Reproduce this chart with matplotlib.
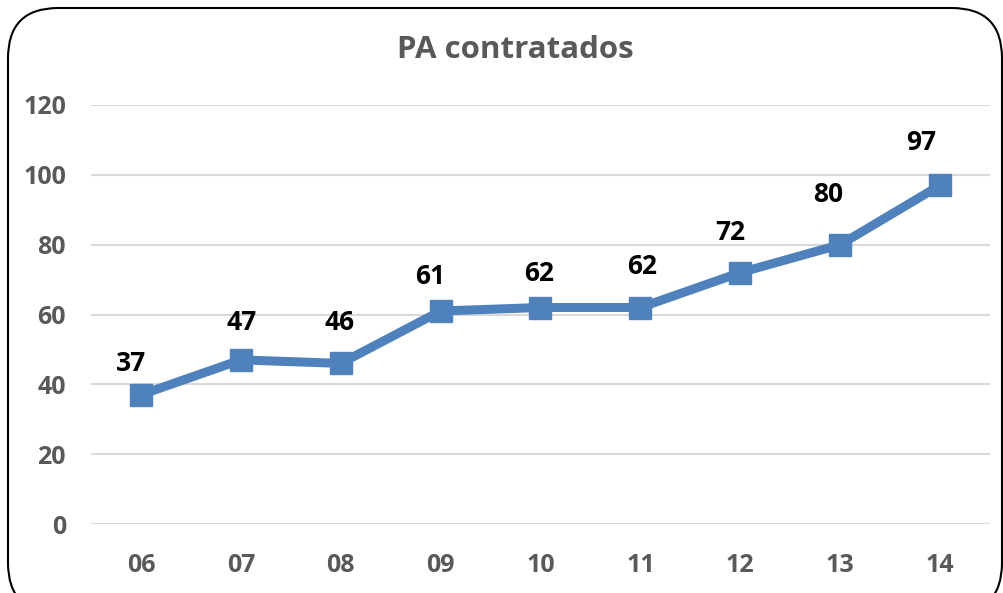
import matplotlib
matplotlib.use("Agg")
import matplotlib.pyplot as plt
from matplotlib.patches import FancyBboxPatch

categories = ["06", "07", "08", "09", "10", "11", "12", "13", "14"]
values = [37, 47, 46, 61, 62, 62, 72, 80, 97]
yticks = [0, 20, 40, 60, 80, 100, 120]
title = "PA contratados"

# label placement offsets (pixels: dx, dy above the point) - style only
label_offsets = [(-10, 31), (1, 37), (-1, 41), (-10, 35), (-1, 34), (2, 41), (-10, 40), (-12, 50), (-19, 43)]

plt.rcParams['font.family'] = ['Open Sans', 'DejaVu Sans']

fig = plt.figure(figsize=(10.04, 5.93), dpi=100)
ax = fig.add_axes([91/1004, (593-524)/593, (990-91)/1004, (524-105)/593])

x = list(range(len(categories)))
ax.plot(x, values, color="#4F81BD", lw=6.5, marker="s", ms=16.5, solid_joinstyle="round", zorder=3)
px2pt = 72 / 100
for xi, v, (dx, dy) in zip(x, values, label_offsets):
    ax.annotate(str(v), (xi, v), xytext=(dx * px2pt, dy * px2pt), textcoords="offset points",
                ha="center", va="center", fontsize=19, fontweight="bold", color="black")

ax.set_xlim(-0.5, len(categories) - 0.5)
ax.set_ylim(0, 120)
ax.set_yticks(yticks)
ax.set_xticks(x)
ax.set_xticklabels(categories)
ax.grid(axis="y", color="#D9D9D9", lw=1.5)
ax.set_axisbelow(True)
for s in ax.spines.values():
    s.set_visible(False)
ax.tick_params(length=0, labelsize=18, labelcolor="#595959")
ax.tick_params(axis="x", pad=21)
ax.tick_params(axis="y", pad=18)
for lbl in ax.get_xticklabels() + ax.get_yticklabels():
    lbl.set_fontweight("bold")

fig.text(0.513, 0.915, title, ha="center", va="center", fontsize=22.5, fontweight="bold", color="#595959")

border = FancyBboxPatch((8/1004, -20/593), (1004-10)/1004, (593+12)/593,
                        boxstyle="round,pad=0,rounding_size=0.05", transform=fig.transFigure,
                        fill=False, ec="black", lw=1.5, mutation_aspect=1004/593)
fig.patches.append(border)

fig.savefig("out.png", dpi=100)
